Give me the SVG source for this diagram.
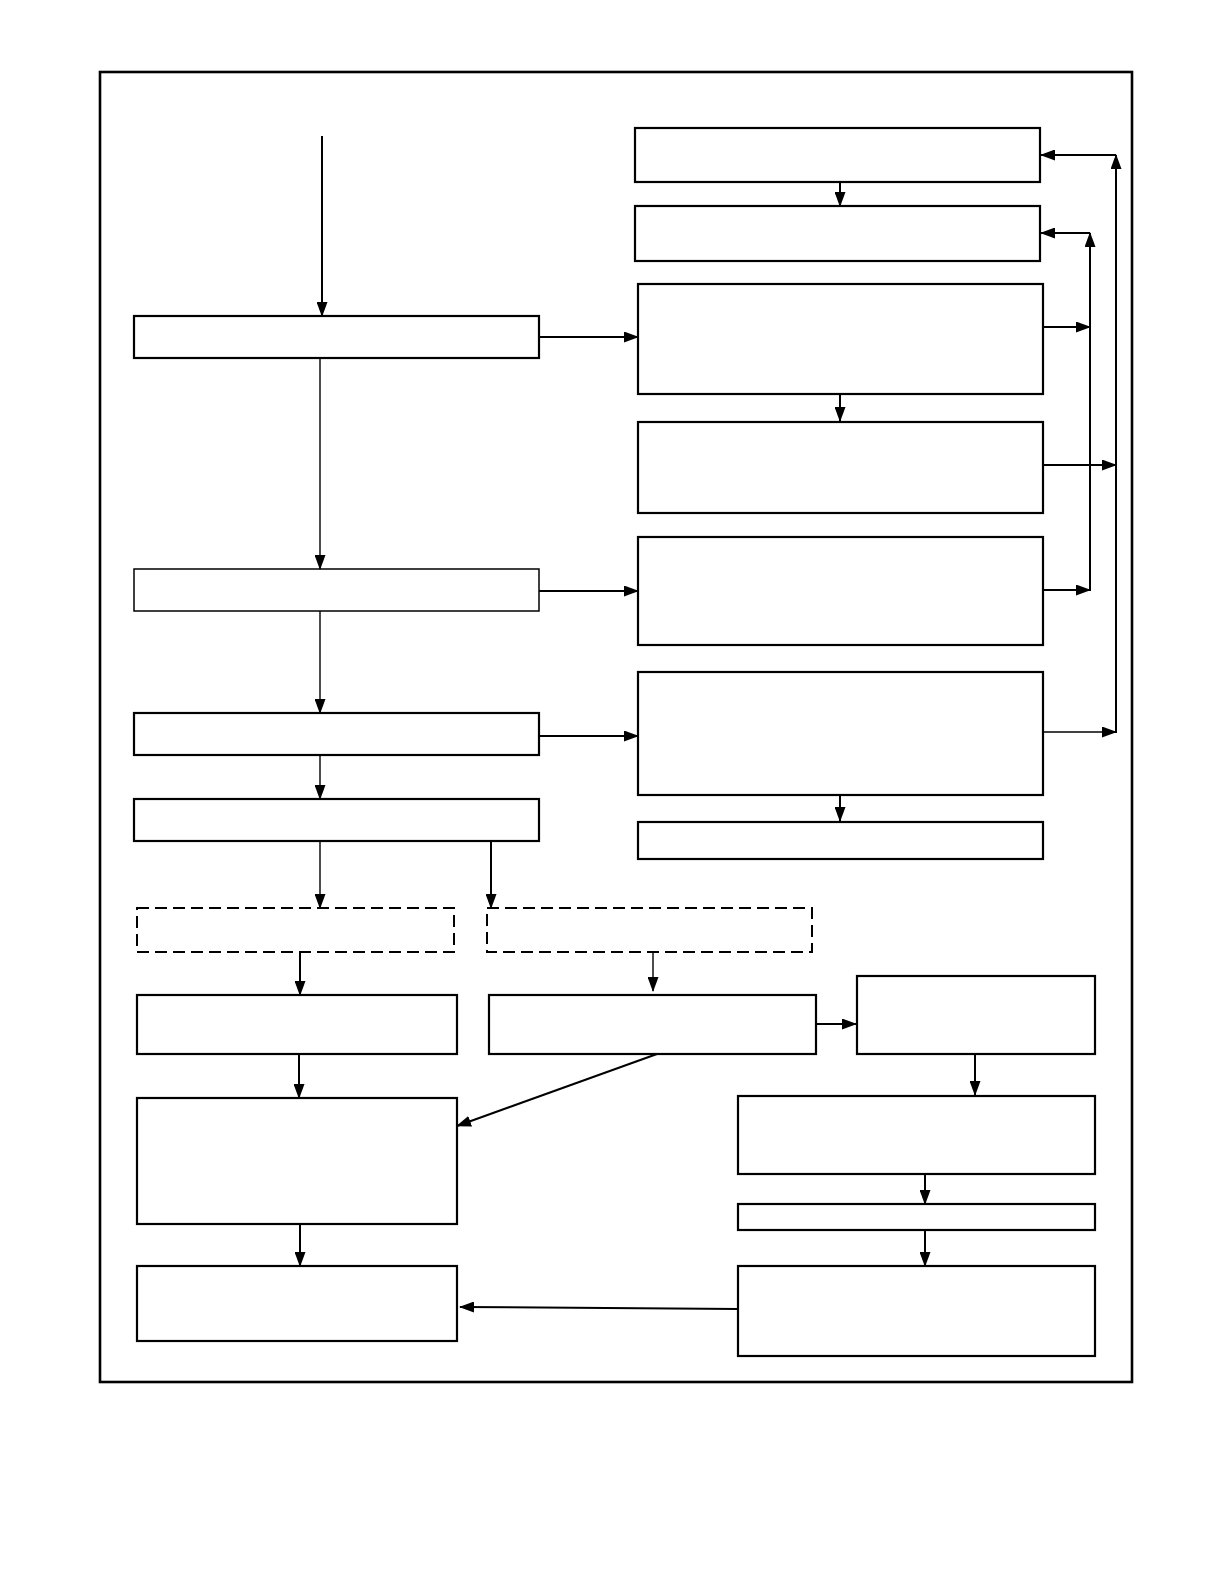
<svg xmlns="http://www.w3.org/2000/svg" width="1225" height="1585" viewBox="0 0 1225 1585">
<style>
.box{fill:#fff;stroke:#000;stroke-width:2.2}
.dash{fill:#fff;stroke:#000;stroke-width:2;stroke-dasharray:12 6}
.ln{fill:none;stroke:#000;stroke-width:2}
.thin{fill:none;stroke:#000;stroke-width:1.4}
</style>
<defs>
<marker id="ah" markerUnits="userSpaceOnUse" markerWidth="15" markerHeight="11" refX="14" refY="5.5" orient="auto">
<path d="M0,0 L15,5.5 L0,11 Z" fill="#000"/>
</marker>
</defs>
<rect x="100" y="72" width="1032" height="1310" fill="none" stroke="#000" stroke-width="2.6"/>
<g id="nodes">
<g id="r1"><rect class="box" x="635" y="128" width="405" height="54"/></g>
<g id="r2"><rect class="box" x="635" y="206" width="405" height="55"/></g>
<g id="r3"><rect class="box" x="638" y="284" width="405" height="110"/></g>
<g id="r4"><rect class="box" x="638" y="422" width="405" height="91"/></g>
<g id="r5"><rect class="box" x="638" y="537" width="405" height="108"/></g>
<g id="r6"><rect class="box" x="638" y="672" width="405" height="123"/></g>
<g id="r7"><rect class="box" x="638" y="822" width="405" height="37"/></g>
<g id="l1"><rect class="box" x="134" y="316" width="405" height="42"/></g>
<g id="l2"><rect class="box" x="134" y="569" width="405" height="42" style="stroke-width:1.5"/></g>
<g id="l3"><rect class="box" x="134" y="713" width="405" height="42"/></g>
<g id="l4"><rect class="box" x="134" y="799" width="405" height="42"/></g>
<g id="d1"><rect class="dash" x="137" y="908" width="317" height="44"/></g>
<g id="d2"><rect class="dash" x="487" y="908" width="325" height="44"/></g>
<g id="b1"><rect class="box" x="137" y="995" width="320" height="59"/></g>
<g id="b2"><rect class="box" x="489" y="995" width="327" height="59"/></g>
<g id="b3"><rect class="box" x="857" y="976" width="238" height="78"/></g>
<g id="c1"><rect class="box" x="137" y="1098" width="320" height="126"/></g>
<g id="c2"><rect class="box" x="738" y="1096" width="357" height="78"/></g>
<g id="c3"><rect class="box" x="738" y="1204" width="357" height="26"/></g>
<g id="e1"><rect class="box" x="137" y="1266" width="320" height="75"/></g>
<g id="e2"><rect class="box" x="738" y="1266" width="357" height="90"/></g>
</g>
<g id="connectors">
<line class="ln" x1="322" y1="136" x2="322" y2="316" marker-end="url(#ah)"/>
<line class="ln" x1="539" y1="337" x2="638" y2="337" marker-end="url(#ah)"/>
<line class="thin" x1="320" y1="358" x2="320" y2="569" marker-end="url(#ah)"/>
<line class="ln" x1="539" y1="591" x2="638" y2="591" marker-end="url(#ah)"/>
<line class="thin" x1="320" y1="611" x2="320" y2="713" marker-end="url(#ah)"/>
<line class="ln" x1="539" y1="736" x2="638" y2="736" marker-end="url(#ah)"/>
<line class="thin" x1="320" y1="755" x2="320" y2="799" marker-end="url(#ah)"/>
<line class="thin" x1="320" y1="841" x2="320" y2="908" marker-end="url(#ah)"/>
<line class="ln" x1="491" y1="841" x2="491" y2="908" marker-end="url(#ah)"/>
<line class="ln" x1="300" y1="952" x2="300" y2="995" marker-end="url(#ah)"/>
<line class="thin" x1="653" y1="952" x2="653" y2="991" marker-end="url(#ah)"/>
<line class="ln" x1="816" y1="1024" x2="856" y2="1024" marker-end="url(#ah)"/>
<line class="ln" x1="299" y1="1054" x2="299" y2="1098" marker-end="url(#ah)"/>
<line class="ln" x1="657" y1="1054" x2="457" y2="1126" marker-end="url(#ah)"/>
<line class="ln" x1="975" y1="1054" x2="975" y2="1095" marker-end="url(#ah)"/>
<line class="ln" x1="925" y1="1174" x2="925" y2="1204" marker-end="url(#ah)"/>
<line class="ln" x1="925" y1="1230" x2="925" y2="1266" marker-end="url(#ah)"/>
<line class="ln" x1="300" y1="1224" x2="300" y2="1266" marker-end="url(#ah)"/>
<line class="ln" x1="738" y1="1309" x2="460" y2="1307" marker-end="url(#ah)"/>
<line class="ln" x1="840" y1="182" x2="840" y2="206" marker-end="url(#ah)"/>
<line class="ln" x1="840" y1="394" x2="840" y2="421" marker-end="url(#ah)"/>
<line class="ln" x1="840" y1="795" x2="840" y2="821" marker-end="url(#ah)"/>
<line class="ln" x1="1116" y1="733" x2="1116" y2="155" marker-end="url(#ah)"/>
<line class="ln" x1="1116" y1="155" x2="1041" y2="155" marker-end="url(#ah)"/>
<line class="ln" x1="1043" y1="465" x2="1116" y2="465" marker-end="url(#ah)"/>
<line class="thin" x1="1043" y1="732" x2="1116" y2="732" marker-end="url(#ah)"/>
<line class="ln" x1="1090" y1="591" x2="1090" y2="233" marker-end="url(#ah)"/>
<line class="ln" x1="1090" y1="233" x2="1041" y2="233" marker-end="url(#ah)"/>
<line class="ln" x1="1043" y1="327" x2="1090" y2="327" marker-end="url(#ah)"/>
<line class="ln" x1="1043" y1="590" x2="1090" y2="590" marker-end="url(#ah)"/>
</g>
</svg>
